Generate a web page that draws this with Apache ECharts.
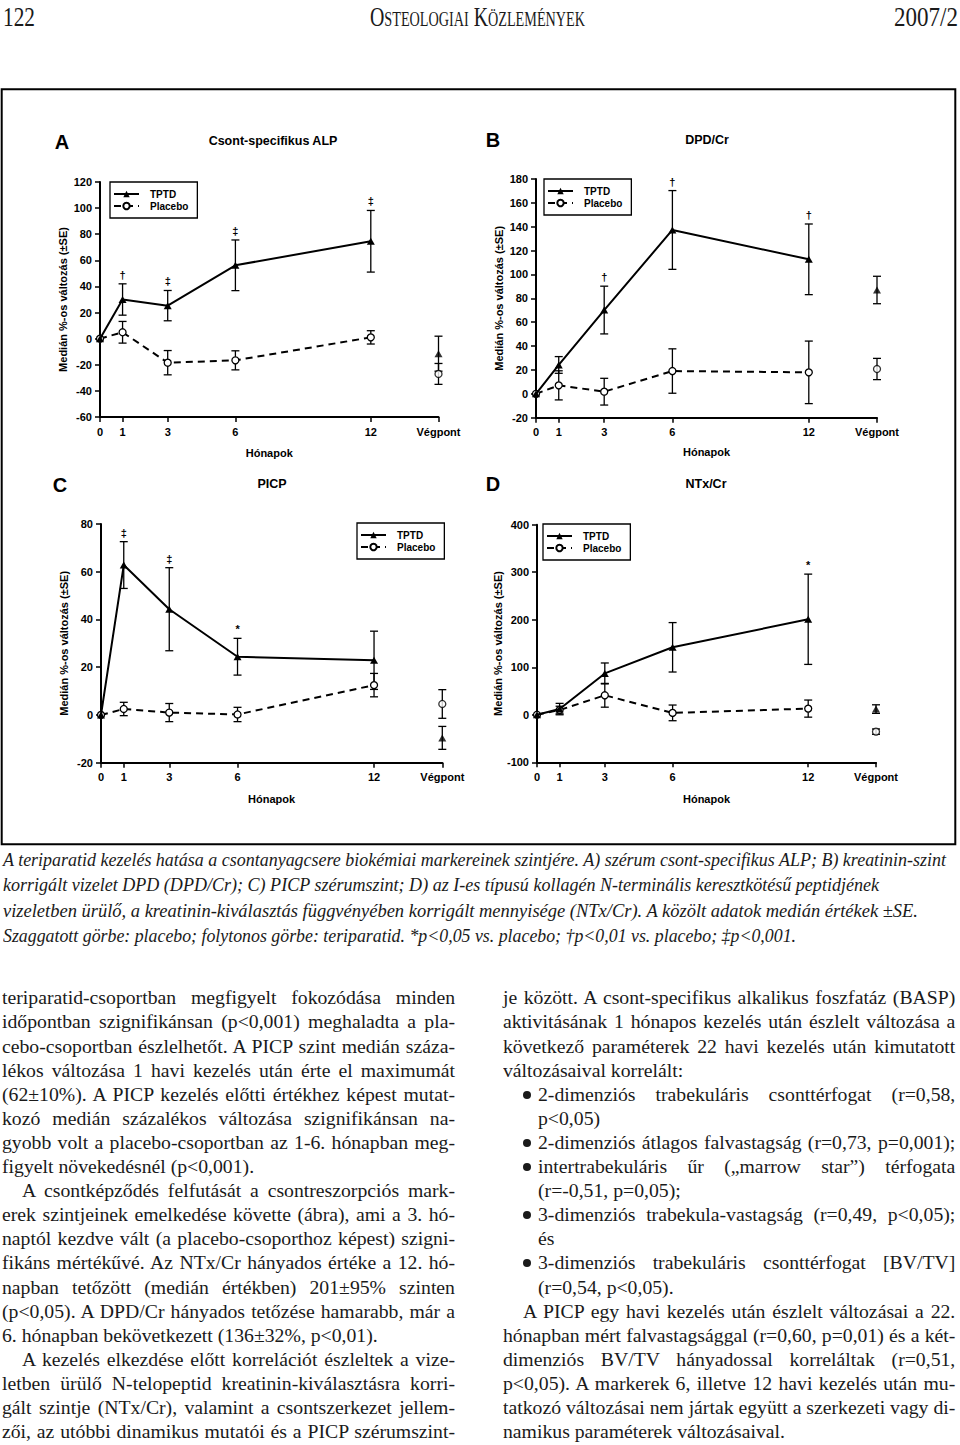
<!DOCTYPE html>
<html><head><meta charset="utf-8">
<script src="https://cdn.jsdelivr.net/npm/echarts@6.0.0/dist/echarts.min.js"></script>
<style>
html,body{margin:0;padding:0;background:#fff;width:960px;height:1445px;overflow:hidden;position:relative}
#chart{position:absolute;left:0;top:0;width:960px;height:850px}
.ln{position:absolute;white-space:pre;font-family:"Liberation Serif","Times New Roman",serif;color:#1a1a1a;transform-origin:0 50%}
.bul{position:absolute;width:8px;height:8px;border-radius:50%;background:#1a1a1a}
</style></head><body>
<div id="chart"></div>
<script>
// ---------------- data ----------------
const xPos = [0, 1, 3, 6, 12, 15];
const xTickLabels = ['0', '1', '3', '6', '12', 'Végpont'];
const seriesNames = ['TPTD', 'Placebo'];
const yAxisTitle = 'Medián %-os változás (±SE)';
const xAxisTitle = 'Hónapok';
const panelLetters = ['A', 'B', 'C', 'D'];
const panelTitles = ['Csont-specifikus ALP', 'DPD/Cr', 'PICP', 'NTx/Cr'];

const alpTptd = [0, 30, 25.3, 56.2, 74.6, -11.5];
const alpTptdSE = [0, 12, 11.6, 19.4, 23.6, 13.4];
const alpPlacebo = [0, 4.9, -18.4, -16.6, 1, -27];
const alpPlaceboSE = [0, 8.3, 9.3, 7.3, 5.1, 8];
const alpSig = ['', '†', '‡', '‡', '‡', ''];

const dpdTptd = [0, 24.2, 70.2, 137.3, 112.7, 87];
const dpdTptdSE = [0, 7, 20, 33, 29.6, 11.5];
const dpdPlacebo = [0, 7.1, 1.8, 19.1, 18, 20.8];
const dpdPlaceboSE = [0, 12.2, 11.2, 18.6, 26.2, 8.9];
const dpdSig = ['', '', '†', '†', '†', ''];

const picpTptd = [0, 62.8, 44.3, 24.4, 22.9, -9.6];
const picpTptdSE = [0, 9.8, 17.4, 7.7, 12.2, 4.8];
const picpPlacebo = [0, 2.5, 1, 0.2, 12.5, 4.6];
const picpPlaceboSE = [0, 2.8, 3.8, 3, 4.9, 6];
const picpSig = ['', '‡', '‡', '*', '', ''];

const ntxTptd = [0, 12, 87, 142, 201, 12];
const ntxTptdSE = [0, 12, 22, 52, 95, 9];
const ntxPlacebo = [0, 10, 41, 4, 13, -35.5];
const ntxPlaceboSE = [0, 8, 25, 16.5, 18, 5.6];
const ntxSig = ['', '', '', '', '*', ''];

const yMins = [-60, -20, -20, -100];
const yMaxs = [120, 180, 80, 400];
const yIntervals = [20, 20, 20, 100];

const panels = [
  {tptd: alpTptd, tptdSE: alpTptdSE, plac: alpPlacebo, placSE: alpPlaceboSE, sig: alpSig},
  {tptd: dpdTptd, tptdSE: dpdTptdSE, plac: dpdPlacebo, placSE: dpdPlaceboSE, sig: dpdSig},
  {tptd: picpTptd, tptdSE: picpTptdSE, plac: picpPlacebo, placSE: picpPlaceboSE, sig: picpSig},
  {tptd: ntxTptd, tptdSE: ntxTptdSE, plac: ntxPlacebo, placSE: ntxPlaceboSE, sig: ntxSig}
];

// ---------------- layout ----------------
const layouts = [
  {grid: {left: 100, top: 182, width: 338.5, height: 235}, letter: [62, 142], title: [273, 141], legend: {left: 110, top: 182}, gx: 30},
  {grid: {left: 536, top: 179, width: 341, height: 238.7}, letter: [493, 140], title: [707, 140], legend: {left: 544, top: 179}, gx: 29},
  {grid: {left: 101, top: 524, width: 341.3, height: 238.7}, letter: [60, 485], title: [272, 484], legend: {left: 357, top: 523}, gx: 31},
  {grid: {left: 537, top: 524.7, width: 339, height: 237.6}, letter: [493, 484], title: [706, 484], legend: {left: 543, top: 524}, gx: 31}
];

const SANS = '"Liberation Sans", Arial, sans-serif';
const lblStyle = {color: '#000', fontFamily: SANS, fontWeight: 'bold', fontSize: 11};

function errData(vals, se) {
  return xPos.map((x, i) => [x, vals[i] - se[i], vals[i] + se[i], i]).filter(d => d[2] > d[1]);
}
function errRender(sig) {
  return function (params, api) {
    const x = api.value(0), lo = api.value(1), hi = api.value(2), idx = api.value(3);
    const t = api.coord([x, hi]), b = api.coord([x, lo]);
    const st = {stroke: '#000', lineWidth: 1.3};
    const ch = [
      {type: 'line', shape: {x1: t[0], y1: t[1], x2: b[0], y2: b[1]}, style: st},
      {type: 'line', shape: {x1: t[0] - 4, y1: t[1], x2: t[0] + 4, y2: t[1]}, style: st},
      {type: 'line', shape: {x1: b[0] - 4, y1: b[1], x2: b[0] + 4, y2: b[1]}, style: st}
    ];
    if (sig && sig[idx]) {
      ch.push({type: 'text', x: t[0], y: t[1] - 9, style: {text: sig[idx], font: 'bold 11px ' + SANS, fill: '#000', align: 'center', verticalAlign: 'middle'}});
    }
    return {type: 'group', children: ch};
  };
}

const grids = [], xAxes = [], yAxes = [], series = [], legends = [], graphics = [];
graphics.push({type: 'rect', silent: true, shape: {x: 1.7, y: 89.3, width: 953.6, height: 755}, style: {fill: 'none', stroke: '#000', lineWidth: 2}});

panels.forEach((p, k) => {
  const L = layouts[k];
  grids.push(Object.assign({containLabel: false}, L.grid));
  xAxes.push({
    type: 'value', gridIndex: k, min: 0, max: 15,
    name: xAxisTitle, nameLocation: 'middle', nameGap: L.gx, nameTextStyle: lblStyle,
    axisLine: {onZero: false, lineStyle: {color: '#000', width: 2}},
    axisTick: {customValues: xPos, length: 5, lineStyle: {color: '#000', width: 1.5}},
    axisLabel: Object.assign({customValues: xPos, margin: 9, formatter: v => xTickLabels[xPos.indexOf(v)]}, lblStyle),
    splitLine: {show: false}
  });
  yAxes.push({
    type: 'value', gridIndex: k, min: yMins[k], max: yMaxs[k], interval: yIntervals[k],
    name: yAxisTitle, nameLocation: 'middle', nameRotate: 90, nameGap: 32, nameTextStyle: lblStyle,
    axisLine: {show: true, onZero: false, lineStyle: {color: '#000', width: 2}},
    axisTick: {show: true, length: 5, lineStyle: {color: '#000', width: 1.5}},
    axisLabel: Object.assign({margin: 8}, lblStyle),
    splitLine: {show: false}
  });
  const line5 = arr => xPos.slice(0, 5).map((x, i) => [x, arr[i]]);
  const tri = {symbol: 'triangle', symbolSize: [8, 7], itemStyle: {color: '#000'}};
  const circ = {symbol: 'circle', symbolSize: 7, itemStyle: {color: '#fff', borderColor: '#000', borderWidth: 1.3}};
  series.push(Object.assign({type: 'line', name: seriesNames[0], xAxisIndex: k, yAxisIndex: k, z: 4, animation: false, silent: true,
    data: line5(p.tptd), lineStyle: {color: '#000', width: 2}}, tri));
  series.push(Object.assign({type: 'line', name: seriesNames[1], xAxisIndex: k, yAxisIndex: k, z: 3, animation: false, silent: true,
    data: line5(p.plac), lineStyle: {color: '#000', width: 2, type: [7, 5]}}, circ));
  series.push(Object.assign({type: 'scatter', name: seriesNames[0], xAxisIndex: k, yAxisIndex: k, z: 4, animation: false, silent: true,
    data: [[xPos[5], p.tptd[5]]]}, tri));
  series.push(Object.assign({type: 'scatter', name: seriesNames[1], xAxisIndex: k, yAxisIndex: k, z: 3, animation: false, silent: true,
    data: [[xPos[5], p.plac[5]]]}, circ));
  series.push({type: 'custom', name: 'errT' + k, xAxisIndex: k, yAxisIndex: k, z: 1, animation: false, silent: true,
    encode: {x: 0, y: [1, 2]}, data: errData(p.tptd, p.tptdSE), renderItem: errRender(p.sig)});
  series.push({type: 'custom', name: 'errP' + k, xAxisIndex: k, yAxisIndex: k, z: 1, animation: false, silent: true,
    encode: {x: 0, y: [1, 2]}, data: errData(p.plac, p.placSE), renderItem: errRender(null)});
  legends.push({
    data: seriesNames, left: L.legend.left, top: L.legend.top, orient: 'vertical',
    selectedMode: false, itemWidth: 25, itemHeight: 8, itemGap: 0,
    padding: [6, 9, 6, 3], borderColor: '#000', borderWidth: 1.3,
    textStyle: {color: '#000', fontFamily: SANS, fontWeight: 'bold', fontSize: 10, lineHeight: 12, padding: [0, 0, 0, 6]}
  });
  graphics.push({type: 'text', x: L.letter[0], y: L.letter[1], silent: true,
    style: {text: panelLetters[k], font: 'bold 20px ' + SANS, fill: '#000', align: 'center', verticalAlign: 'middle'}});
  graphics.push({type: 'text', x: L.title[0], y: L.title[1], silent: true,
    style: {text: panelTitles[k], font: 'bold 12.5px ' + SANS, fill: '#000', align: 'center', verticalAlign: 'middle'}});
});

const chart = echarts.init(document.getElementById('chart'), null, {renderer: 'svg'});
chart.setOption({
  animation: false, backgroundColor: '#fff',
  grid: grids, xAxis: xAxes, yAxis: yAxes, series: series, legend: legends, graphic: graphics
});

// ---------------- page text ----------------
const headerItems = [
  {t: '122', x0: 3, x1: 35},
  {t: 'Osteologiai Közlemények', x0: 370, x1: 585, sc: true},
  {t: '2007/2', x0: 894, x1: 958}
];
const captionLines = [
  {t: 'A teriparatid kezelés hatása a csontanyagcsere biokémiai markereinek szintjére. A) szérum csont-specifikus ALP; B) kreatinin-szint', x1: 946},
  {t: 'korrigált vizelet DPD (DPD/Cr); C) PICP szérumszint; D) az I-es típusú kollagén N-terminális keresztkötésű peptidjének', x1: 879},
  {t: 'vizeletben ürülő, a kreatinin-kiválasztás függvényében korrigált mennyisége (NTx/Cr). A közölt adatok medián értékek ±SE.', x1: 918},
  {t: 'Szaggatott görbe: placebo; folytonos görbe: teriparatid. *p<0,05 vs. placebo; †p<0,01 vs. placebo; ‡p<0,001.', x1: 796}
];
const colLeft = [
  {t: 'teriparatid-csoportban megfigyelt fokozódása minden', j: 1},
  {t: 'időpontban szignifikánsan (p<0,001) meghaladta a pla-', j: 1},
  {t: 'cebo-csoportban észlelhetőt. A PICP szint medián száza-', j: 1},
  {t: 'lékos változása 1 havi kezelés után érte el maximumát', j: 1},
  {t: '(62±10%). A PICP kezelés előtti értékhez képest mutat-', j: 1},
  {t: 'kozó medián százalékos változása szignifikánsan na-', j: 1},
  {t: 'gyobb volt a placebo-csoportban az 1-6. hónapban meg-', j: 1},
  {t: 'figyelt növekedésnél (p<0,001).', j: 0},
  {t: 'A csontképződés felfutását a csontreszorpciós mark-', j: 1, ind: 20},
  {t: 'erek szintjeinek emelkedése követte (ábra), ami a 3. hó-', j: 1},
  {t: 'naptól kezdve vált (a placebo-csoporthoz képest) szigni-', j: 1},
  {t: 'fikáns mértékűvé. Az NTx/Cr hányados értéke a 12. hó-', j: 1},
  {t: 'napban tetőzött (medián értékben) 201±95% szinten', j: 1},
  {t: '(p<0,05). A DPD/Cr hányados tetőzése hamarabb, már a', j: 1},
  {t: '6. hónapban bekövetkezett (136±32%, p<0,01).', j: 0},
  {t: 'A kezelés elkezdése előtt korrelációt észleltek a vize-', j: 1, ind: 20},
  {t: 'letben ürülő N-telopeptid kreatinin-kiválasztásra korri-', j: 1},
  {t: 'gált szintje (NTx/Cr), valamint a csontszerkezet jellem-', j: 1},
  {t: 'zői, az utóbbi dinamikus mutatói és a PICP szérumszint-', j: 1}
];
const colRight = [
  {t: 'je között. A csont-specifikus alkalikus foszfatáz (BASP)', j: 1},
  {t: 'aktivitásának 1 hónapos kezelés után észlelt változása a', j: 1},
  {t: 'következő paraméterek 22 havi kezelés után kimutatott', j: 1},
  {t: 'változásaival korrelált:', j: 0},
  {t: '2-dimenziós trabekuláris csonttérfogat (r=0,58,', j: 1, ind: 35, b: 1},
  {t: 'p<0,05)', j: 0, ind: 35},
  {t: '2-dimenziós átlagos falvastagság (r=0,73, p=0,001);', j: 1, ind: 35, b: 1},
  {t: 'intertrabekuláris űr („marrow star”) térfogata', j: 1, ind: 35, b: 1},
  {t: '(r=-0,51, p=0,05);', j: 0, ind: 35},
  {t: '3-dimenziós trabekula-vastagság (r=0,49, p<0,05);', j: 1, ind: 35, b: 1},
  {t: 'és', j: 0, ind: 35},
  {t: '3-dimenziós trabekuláris csonttérfogat [BV/TV]', j: 1, ind: 35, b: 1},
  {t: '(r=0,54, p<0,05).', j: 0, ind: 35},
  {t: 'A PICP egy havi kezelés után észlelt változásai a 22.', j: 1, ind: 20},
  {t: 'hónapban mért falvastagsággal (r=0,60, p=0,01) és a két-', j: 1},
  {t: 'dimenziós BV/TV hányadossal korreláltak (r=0,51,', j: 1},
  {t: 'p<0,05). A markerek 6, illetve 12 havi kezelés után mu-', j: 1},
  {t: 'tatkozó változásai nem jártak együtt a szerkezeti vagy di-', j: 1},
  {t: 'namikus paraméterek változásaival.', j: 0}
];

function mkSpan(text, x, yc, size, lh, extra) {
  const s = document.createElement('span');
  s.className = 'ln';
  s.textContent = text;
  s.style.fontSize = size + 'px';
  s.style.lineHeight = lh + 'px';
  s.style.left = x + 'px';
  s.style.top = (yc - lh / 2) + 'px';
  if (extra) s.style.cssText += extra;
  document.body.appendChild(s);
  return s;
}

// header
headerItems.forEach(h => {
  const s = mkSpan(h.t, h.x0, 17, 28, 32, h.sc ? 'font-variant:small-caps;' : '');
  const w = s.getBoundingClientRect().width;
  s.style.transform = 'scaleX(' + ((h.x1 - h.x0) / w) + ')';
});

// caption
captionLines.forEach((c, i) => {
  const s = mkSpan(c.t, 3, 859.5 + i * 25.6, 19, 24, 'font-style:italic;');
  const w = s.getBoundingClientRect().width;
  s.style.transform = 'scaleX(' + ((c.x1 - 3) / w) + ')';
});

// body columns
const cols = [{lines: colLeft, x0: 2, x1: 455}, {lines: colRight, x0: 502.7, x1: 955}];
const all = [];
cols.forEach(col => {
  col.lines.forEach((l, i) => {
    const x = col.x0 + (l.ind || 0);
    const yc = 998.3 + i * 24.1;
    const s = mkSpan(l.t, x, yc, 18, 24, '');
    all.push({l, s, w: s.getBoundingClientRect().width, target: col.x1 - x});
    if (l.b) {
      const d = document.createElement('div');
      d.className = 'bul';
      d.style.left = (col.x0 + 20.5) + 'px';
      d.style.top = (yc - 4) + 'px';
      document.body.appendChild(d);
    }
  });
});
const ratios = all.filter(a => a.l.j).map(a => a.target / a.w);
const sc = Math.min.apply(null, ratios);
all.forEach(a => {
  if (a.l.j) {
    const n = (a.l.t.match(/ /g) || []).length;
    const tgt = a.target / sc;
    if (n > 0 && tgt > a.w) a.s.style.wordSpacing = ((tgt - a.w) / n) + 'px';
  }
  a.s.style.transform = 'scaleX(' + sc + ')';
});
</script></body></html>
